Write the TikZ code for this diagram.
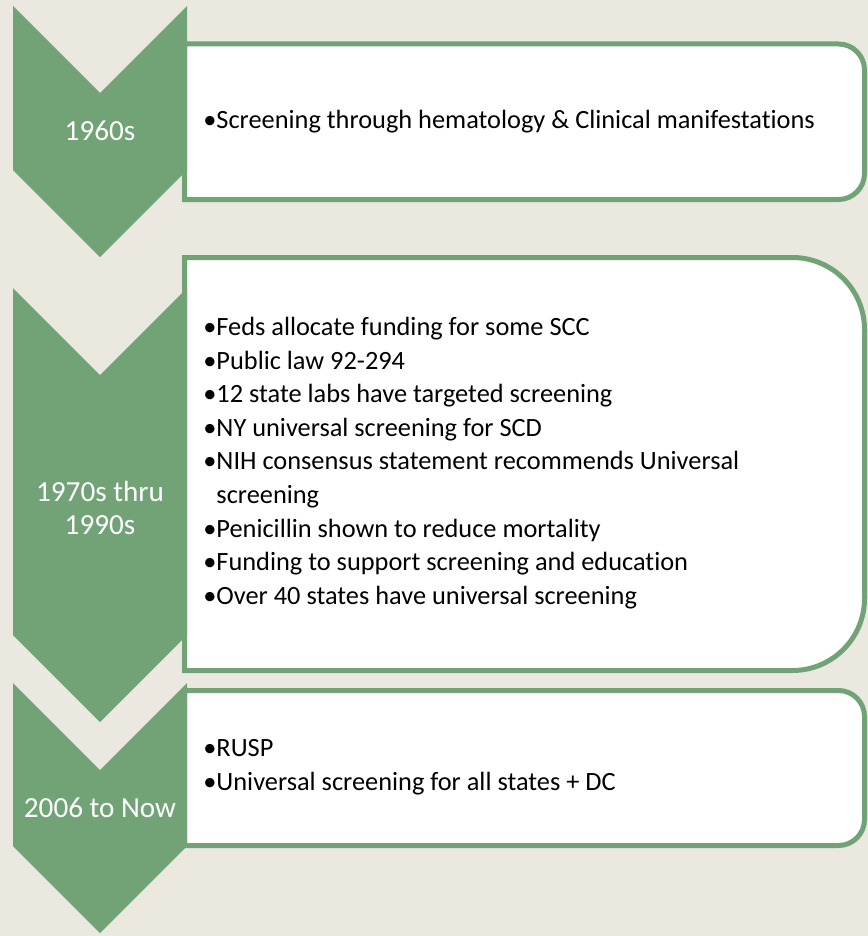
\documentclass[tikz,border=0pt]{standalone}
\usepackage{fontspec}
\setmainfont{Carlito}[Ligatures={NoCommon,NoContextual},Contextuals=NoAlternate]
\usepackage{xcolor}
\usetikzlibrary{positioning}

\definecolor{leaf}{RGB}{113,163,119}
\definecolor{paper}{RGB}{235,233,223}

\begin{document}
\begin{tikzpicture}[x=0.02cm,y=-0.02cm,
    chevron/.style={fill=leaf},
    panel/.style={draw=leaf,line width=0.1cm,fill=white},
    era/.style={text=white,align=center,font=\fontsize{16.6}{18.8}\selectfont},
    items/.style={anchor=west,align=left,inner sep=0pt,font=\fontsize{15}{19.1}\selectfont}]

  \fill[paper] (0,0) rectangle (868,936);

  % white panels, rounded on the right only
  \draw[panel] (184.5,44) -- (838.5,44) arc[start angle=-90,end angle=0,radius=26]
    -- (864.5,173.5) arc[start angle=0,end angle=90,radius=26] -- (184.5,199.5) -- cycle;
  \draw[panel] (184.5,257.5) -- (792.5,257.5) arc[start angle=-90,end angle=0,radius=72]
    -- (864.5,598.5) arc[start angle=0,end angle=90,radius=72] -- (184.5,670.5) -- cycle;
  \draw[panel] (184.5,690.5) -- (838.5,690.5) arc[start angle=-90,end angle=0,radius=26]
    -- (864.5,819.5) arc[start angle=0,end angle=90,radius=26] -- (184.5,845.5) -- cycle;

  % chevrons
  \fill[chevron] (13,6) -- (100,93) -- (187,6) -- (187,170) -- (100,257) -- (13,170) -- cycle;
  \fill[chevron] (13,288) -- (100,375) -- (187,288) -- (187,635) -- (100,722) -- (13,635) -- cycle;
  \fill[chevron] (13,683) -- (100,770) -- (187,683) -- (187,846) -- (100,933) -- (13,846) -- cycle;

  \node[era] (e1960) at (100,131) {1960s};
  \node[era] (e1970) at (100,508) {1970s thru\\1990s};
  \node[era] (e2006) at (100,808) {2006 to Now};

  \node[items] (l1960) at (203,122) {•Screening through hematology \& Clinical manifestations};
  \node[items] (l1970) at (203,463) {•Feds allocate funding for some SCC\\
    •Public law 92-294\\
    •12 state labs have targeted screening\\
    •NY universal screening for SCD\\
    •NIH consensus statement recommends Universal\\
    \phantom{•}screening\\
    •Penicillin shown to reduce mortality\\
    •Funding to support screening and education\\
    •Over 40 states have universal screening};
  \node[items] (l2006) at (203,767) {•RUSP\\•Universal screening for all states + DC};
\end{tikzpicture}
\end{document}
